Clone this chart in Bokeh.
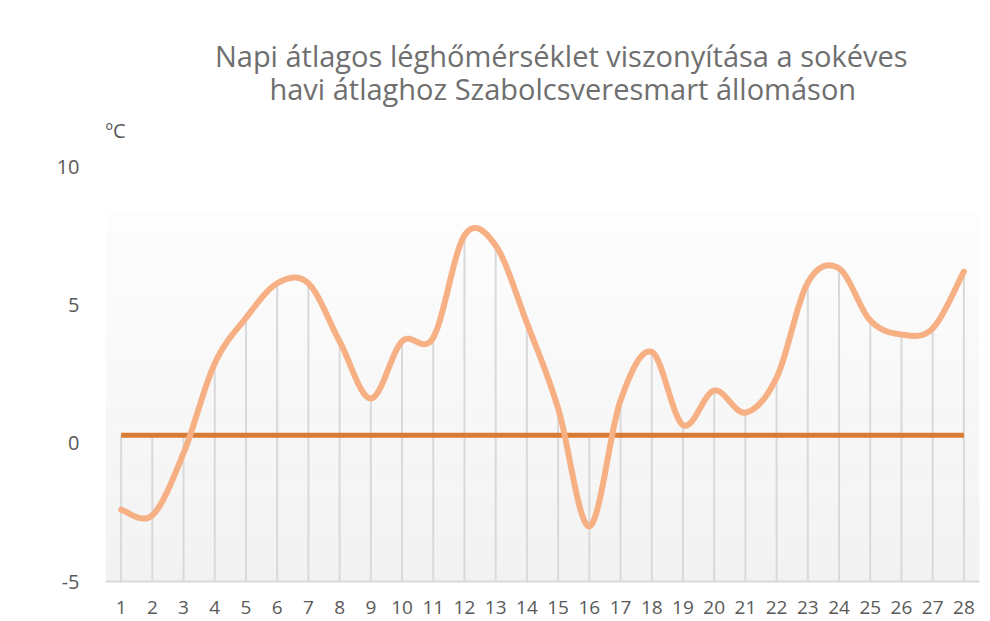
import numpy as np
from bokeh.plotting import figure
from bokeh.models import Range1d, FixedTicker
from bokeh.core.properties import value
from bokeh.embed import file_html
from bokeh.resources import INLINE

# ---- data ----
days = list(range(1, 29))
day_labels = [str(d) for d in days]
temp_dev = [-2.4, -2.6, -0.35, 2.9, 4.55, 5.8, 5.8, 3.7, 1.63, 3.7,
            3.84, 7.54, 7.17, 4.37, 1.27, -3.0, 1.56, 3.32, 0.67, 1.92,
            1.12, 2.39, 5.83, 6.34, 4.46, 3.95, 4.17, 6.23]
avg_ref = [0.3] * 28
y_ticks = [-5, 0, 5, 10]
y_tick_labels = ["-5", "0", "5", "10"]
title_line1 = "Napi átlagos léghőmérséklet viszonyítása a sokéves"
title_line2 = "havi átlaghoz Szabolcsveresmart állomáson"
unit_text = "ºC"

# ---- figure ----
p = figure(width=990, height=621, output_backend="svg", toolbar_location=None,
           x_range=Range1d(0.5, 28.5), y_range=Range1d(-5, 16.05),
           min_border_left=105, min_border_right=11, min_border_top=0,
           min_border_bottom=40)
p.outline_line_color = None
p.xgrid.visible = False
p.ygrid.visible = False
p.background_fill_color = "white"
p.border_fill_color = "white"

# gradient background (decoration)
n_b = 40
g_top = 8.33
edges = np.linspace(-5, g_top, n_b + 1)
cols = []
for i in range(n_b):
    frac = (i + 0.5) / n_b  # 0 bottom -> 1 top
    lv = int(round(242 + (253 - 242) * frac))
    cols.append("#%02x%02x%02x" % (lv, lv, lv))
p.quad(left=0.5, right=28.5, bottom=edges[:-1], top=edges[1:],
       fill_color=cols, line_color=None)

# drop lines
x = np.array(days, dtype=float)
y = np.array(temp_dev, dtype=float)
a = np.array(avg_ref, dtype=float)
tops = np.maximum(y, a)
p.segment(x0=x, y0=np.full_like(x, y_ticks[0]), x1=x, y1=tops,
          line_color="#d9d9d9", line_width=2)

# average reference line
p.line(x, a, line_color="#DA7B34", line_width=5)

# smoothed curve (Bezier through the data points, Excel-style)
xs, ys = [], []
n = len(x)
t = np.linspace(0, 1, 24)
for i in range(n - 1):
    i0 = max(i - 1, 0)
    i3 = min(i + 2, n - 1)
    P0 = np.array([x[i0], y[i0]]); P1 = np.array([x[i], y[i]])
    P2 = np.array([x[i + 1], y[i + 1]]); P3 = np.array([x[i3], y[i3]])
    B1 = P1 + (P2 - P0) / 6.0
    B2 = P2 - (P3 - P1) / 6.0
    tt = t if i == 0 else t[1:]
    for tv in tt:
        pt = ((1 - tv) ** 3) * P1 + 3 * ((1 - tv) ** 2) * tv * B1 + 3 * (1 - tv) * tv ** 2 * B2 + tv ** 3 * P2
        xs.append(pt[0]); ys.append(pt[1])
p.line(xs, ys, line_color="#F7B084", line_width=6, line_join="round", line_cap="round")

# axes
p.xaxis.ticker = FixedTicker(ticks=days)
p.xaxis.major_label_overrides = {d: l for d, l in zip(days, day_labels)}
p.xaxis.axis_line_color = "#d9d9d9"
p.xaxis.axis_line_width = 2
p.xaxis.major_tick_line_color = None
p.xaxis.minor_tick_line_color = None
p.xaxis.major_label_standoff = 13
p.xaxis.major_label_text_font = "Open Sans"
p.xaxis.major_label_text_font_size = "19px"
p.xaxis.major_label_text_color = "#595959"

p.yaxis.ticker = FixedTicker(ticks=y_ticks)
p.yaxis.major_label_overrides = {v: l for v, l in zip(y_ticks, y_tick_labels)}
p.yaxis.axis_line_color = None
p.yaxis.major_tick_line_color = None
p.yaxis.minor_tick_line_color = None
p.yaxis.major_label_standoff = 20
p.yaxis.major_label_text_font = "Open Sans"
p.yaxis.major_label_text_font_size = "20px"
p.yaxis.major_label_text_color = "#595959"

# titles and unit (as text glyphs inside the frame)
p.text(x=[15.1, 15.15], y=[14.05, 12.86], text=[title_line1, title_line2],
       text_align="center", text_baseline="middle",
       text_font=value("Open Sans"), text_font_size="29px", text_color="#6f6f6f")
p.text(x=[0.5], y=[11.34], text=[unit_text], text_align="left",
       text_baseline="middle", text_font=value("Open Sans"),
       text_font_size="20px", text_color="#595959")

open("out.html", "w").write(file_html(p, INLINE))
